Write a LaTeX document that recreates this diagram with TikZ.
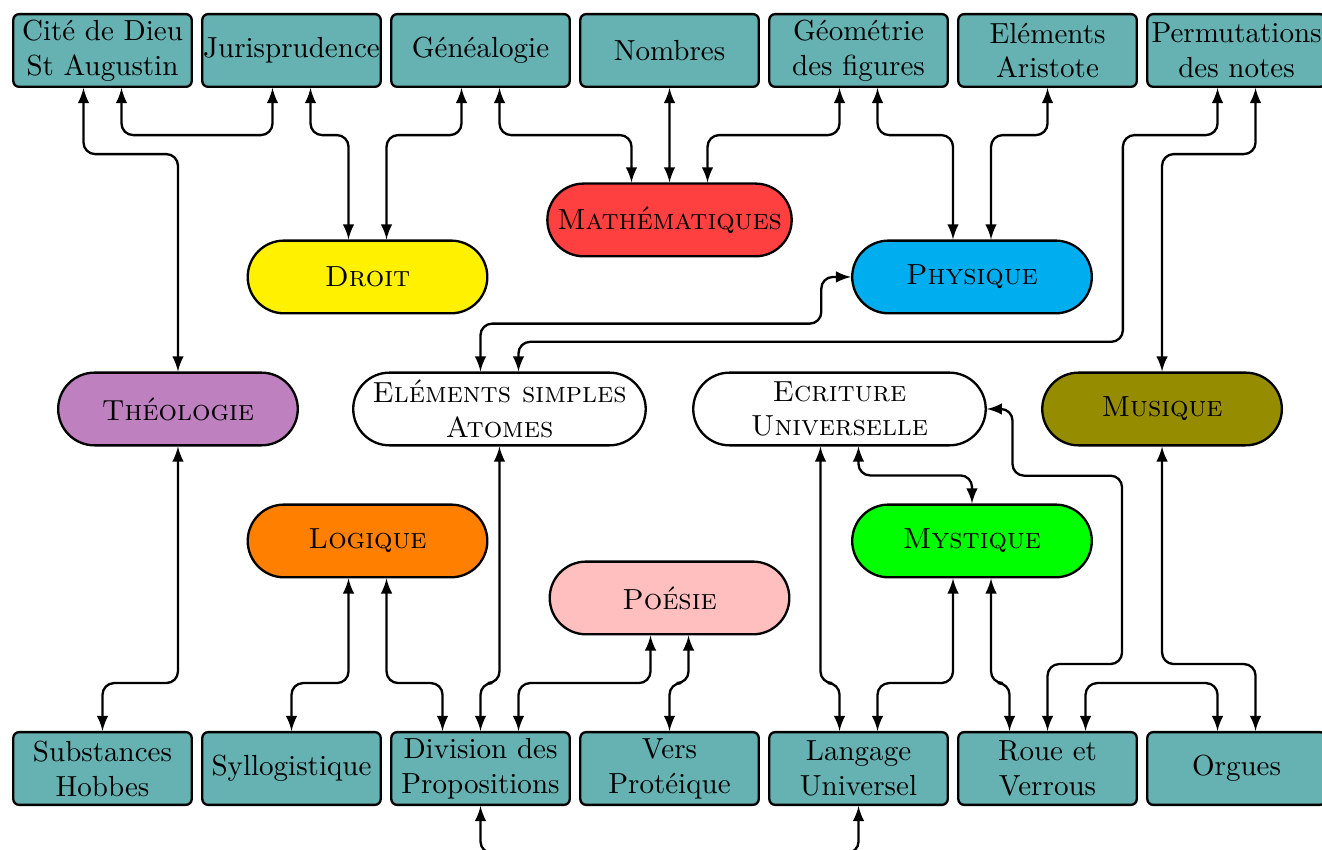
\documentclass[tikz,border=0pt]{standalone}
\usepackage{tikz}
\definecolor{jaune}{RGB}{255,241,0}
\definecolor{bleu}{RGB}{0,174,239}
\definecolor{olivier}{RGB}{150,140,0}
\begin{document}
\begin{tikzpicture}[
        boite/.style={draw, thick, fill=teal!60, rounded corners=2pt, minimum width=2.16cm, minimum height=0.88cm, inner xsep=0pt, inner ysep=1pt, align=center},
        bulle/.style={draw, thick, rounded corners=0.44cm, minimum width=2.9cm, minimum height=0.88cm, inner ysep=1pt, align=center, font=\scshape},
        lien/.style={<->, >=latex, thick, rounded corners}
    ]
        \useasboundingbox (0,0) rectangle (16,10.287);

        \foreach \nom/\texte [count=\i from 0] in {cite/{Cité de Dieu\\St Augustin}, juris/Jurisprudence, genea/Généalogie, nombres/Nombres, geom/{Géométrie\\des figures}, aristote/{Eléments\\Aristote}, perm/{Permutations\\des notes}}
            \node[boite] (\nom) at ({1.2406+2.2875*\i}, 9.676) {\texte};

        \foreach \nom/\texte [count=\i from 0] in {subst/{Substances\\Hobbes}, syllog/Syllogistique, division/{Division des\\Propositions}, vers/{Vers\\Protéique}, langage/{Langage\\Universel}, roue/{Roue et\\Verrous}, orgues/Orgues}
            \node[boite] (\nom) at ({1.2406+2.2875*\i}, 0.986) {\texte};

        \node[bulle, fill=red!75] (math) at (8.103, 7.625) {Mathématiques};
        \node[bulle, fill=jaune] (droit) at (4.448, 6.935) {Droit};
        \node[bulle, fill=bleu] (physique) at (11.764, 6.935) {Physique};
        \node[bulle, fill=violet!50] (theologie) at (2.154, 5.337) {Théologie};
        \node[bulle, fill=white, minimum width=3.54cm] (atomes) at (6.045, 5.337) {Eléments simples\\Atomes};
        \node[bulle, fill=white, minimum width=3.54cm] (ecriture) at (10.16, 5.337) {Ecriture\\Universelle};
        \node[bulle, fill=olivier] (musique) at (14.064, 5.337) {Musique};
        \node[bulle, fill=orange] (logique) at (4.448, 3.74) {Logique};
        \node[bulle, fill=pink] (poesie) at (8.103, 3.05) {Poésie};
        \node[bulle, fill=green] (mystique) at (11.764, 3.74) {Mystique};

        \draw[lien] ([xshift=-0.23cm]cite.south) -- ++(0,-0.8) -| (theologie.north);
        \draw[lien] ([xshift=0.23cm]cite.south) -- ++(0,-0.57) -| ([xshift=-0.23cm]juris.south);
        \draw[lien] ([xshift=0.23cm]juris.south) -- ++(0,-0.57) -| ([xshift=-0.23cm]droit.north);
        \draw[lien] ([xshift=-0.23cm]genea.south) -- ++(0,-0.57) -| ([xshift=0.23cm]droit.north);
        \draw[lien] ([xshift=0.23cm]genea.south) -- ++(0,-0.57) -| ([xshift=-0.46cm]math.north);
        \draw[lien] (nombres.south) -- (math.north);
        \draw[lien] ([xshift=-0.23cm]geom.south) -- ++(0,-0.57) -| ([xshift=0.46cm]math.north);
        \draw[lien] ([xshift=0.23cm]geom.south) -- ++(0,-0.57) -| ([xshift=-0.23cm]physique.north);
        \draw[lien] (aristote.south) -- ++(0,-0.57) -| ([xshift=0.23cm]physique.north);
        \draw[lien] ([xshift=-0.23cm]perm.south) -- ++(0,-0.57) -| (13.59, 6.15) -| ([xshift=0.23cm]atomes.north);
        \draw[lien] ([xshift=0.23cm]perm.south) -- ++(0,-0.8) -| (musique.north);
        \draw[lien] ([xshift=-0.23cm]atomes.north) |- (9.94, 6.37) |- (physique.west);

        \draw[lien] (subst.north) -- ++(0,0.58) -| (theologie.south);
        \draw[lien] (syllog.north) -- ++(0,0.58) -| ([xshift=-0.23cm]logique.south);
        \draw[lien] ([xshift=-0.46cm]division.north) -- ++(0,0.58) -| ([xshift=0.23cm]logique.south);
        \draw[lien] (division.north) -- ++(0,0.58) -| (atomes.south);
        \draw[lien] ([xshift=0.46cm]division.north) -- ++(0,0.58) -| ([xshift=-0.23cm]poesie.south);
        \draw[lien] (vers.north) -- ++(0,0.58) -| ([xshift=0.23cm]poesie.south);
        \draw[lien] ([xshift=-0.23cm]langage.north) -- ++(0,0.58) -| ([xshift=-0.23cm]ecriture.south);
        \draw[lien] ([xshift=0.23cm]langage.north) -- ++(0,0.58) -| ([xshift=-0.23cm]mystique.south);
        \draw[lien] ([xshift=0.23cm]ecriture.south) -- ++(0,-0.35) -| (mystique.north);
        \draw[lien] ([xshift=-0.46cm]roue.north) -- ++(0,0.58) -| ([xshift=0.23cm]mystique.south);
        \draw[lien] (roue.north) -- ++(0,0.81) -| (13.58, 4.53) -| ([xshift=0.31cm]ecriture.east) -- (ecriture.east);
        \draw[lien] ([xshift=0.46cm]roue.north) -- ++(0,0.58) -| ([xshift=-0.23cm]orgues.north);
        \draw[lien] ([xshift=0.23cm]orgues.north) -- ++(0,0.81) -| (musique.south);
        \draw[lien] (division.south) -- ++(0,-0.57) -| (langage.south);
    \end{tikzpicture}
\end{document}
